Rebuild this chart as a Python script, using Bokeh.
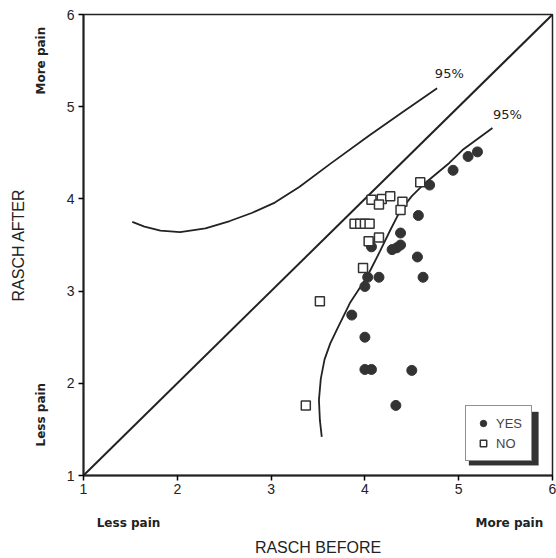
from bokeh.plotting import figure
from bokeh.models import (Label, Legend, LegendItem, Range1d, LinearAxis,
                          FixedTicker, BoxAnnotation)
from bokeh.embed import file_html
from bokeh.resources import INLINE

# ---- data ----
yes_x = [5.20, 5.10, 4.94, 4.69, 4.57, 4.38, 4.07, 4.38, 4.34, 4.29, 4.56,
         4.03, 4.15, 4.62, 4.00, 3.86, 4.00, 4.00, 4.07, 4.50, 4.33]
yes_y = [4.51, 4.46, 4.31, 4.15, 3.82, 3.63, 3.48, 3.50, 3.47, 3.45, 3.37,
         3.15, 3.15, 3.15, 3.05, 2.74, 2.50, 2.15, 2.15, 2.14, 1.76]

no_x = [4.59, 4.07, 4.18, 4.27, 4.15, 4.40, 4.38, 3.89, 3.95, 4.00, 4.05,
        4.15, 4.04, 3.98, 3.52, 3.37]
no_y = [4.18, 3.99, 4.00, 4.03, 3.94, 3.97, 3.88, 3.73, 3.73, 3.73, 3.73,
        3.58, 3.54, 3.25, 2.89, 1.76]

upper_x = [1.52, 1.65, 1.82, 2.03, 2.30, 2.56, 2.80, 3.04, 3.30, 3.63, 4.05, 4.40, 4.77]
upper_y = [3.75, 3.70, 3.655, 3.64, 3.68, 3.76, 3.85, 3.96, 4.13, 4.38, 4.69, 4.94, 5.20]

lower_x = [3.54, 3.52, 3.51, 3.53, 3.57, 3.63, 3.70, 3.84, 4.02, 4.16, 4.27, 4.37,
           4.50, 4.64, 4.90, 5.04, 5.36]
lower_y = [1.42, 1.60, 1.82, 2.05, 2.26, 2.43, 2.58, 2.87, 3.15, 3.43, 3.66, 3.86,
           4.03, 4.17, 4.39, 4.53, 4.77]

diag_x = [1, 6]
diag_y = [1, 6]

ticks = [1, 2, 3, 4, 5, 6]
x_end_labels = {1.48: "Less pain", 5.54: "More pain"}
y_end_labels = {1.66: "Less pain", 5.50: "More pain"}

# ---- figure ----
p = figure(width=556, height=558, output_backend="svg", toolbar_location=None,
           x_range=Range1d(1, 6), y_range=Range1d(1, 6),
           min_border_left=83, min_border_right=4, min_border_top=14,
           min_border_bottom=82)
p.grid.visible = False
p.background_fill_color = "white"
p.border_fill_color = "white"
p.outline_line_color = "#222222"
p.outline_line_width = 1.5

for ax in (p.xaxis[0], p.yaxis[0]):
    ax.ticker = ticks
    ax.axis_line_width = 2
    ax.axis_line_color = "#222222"
    ax.major_tick_line_width = 1.5
    ax.major_tick_out = 5
    ax.major_tick_in = 0
    ax.minor_tick_out = 3
    ax.minor_tick_in = 0
    ax.major_label_text_font = "Liberation Sans"
    ax.major_label_text_font_size = "14px"
    ax.major_label_text_color = "#222222"
p.xaxis[0].ticker.num_minor_ticks = 2
p.yaxis[0].ticker.num_minor_ticks = 2
p.xaxis[0].major_label_standoff = 3
p.yaxis[0].major_label_standoff = 4

# secondary axes carrying the "Less pain" / "More pain" text and titles
xa2 = LinearAxis(ticker=FixedTicker(ticks=list(x_end_labels.keys())),
                 major_label_overrides=x_end_labels,
                 axis_line_color=None, major_tick_line_color=None,
                 minor_tick_line_color=None,
                 major_label_text_font="DejaVu Sans",
                 major_label_text_font_style="bold",
                 major_label_text_font_size="12px",
                 major_label_text_color="#222222",
                 major_label_standoff=13,
                 axis_label="RASCH BEFORE",
                 axis_label_text_font="Liberation Sans",
                 axis_label_text_font_style="normal",
                 axis_label_text_font_size="16px",
                 axis_label_text_color="#222222",
                 axis_label_standoff=6)
p.add_layout(xa2, "below")

ya2 = LinearAxis(ticker=FixedTicker(ticks=list(y_end_labels.keys())),
                 major_label_overrides=y_end_labels,
                 major_label_orientation="vertical",
                 axis_line_color=None, major_tick_line_color=None,
                 minor_tick_line_color=None,
                 major_label_text_font="DejaVu Sans",
                 major_label_text_font_style="bold",
                 major_label_text_font_size="12px",
                 major_label_text_color="#222222",
                 major_label_standoff=9,
                 axis_label="RASCH AFTER",
                 axis_label_text_font="Liberation Sans",
                 axis_label_text_font_style="normal",
                 axis_label_text_font_size="16px",
                 axis_label_text_color="#222222",
                 axis_label_standoff=5)
p.add_layout(ya2, "left")

# lines
p.line(diag_x, diag_y, line_color="#222222", line_width=2)
p.line(upper_x, upper_y, line_color="#222222", line_width=1.8)
p.line(lower_x, lower_y, line_color="#222222", line_width=1.8)

# points
r_yes = p.scatter(yes_x, yes_y, marker="circle", size=10, fill_color="#333333",
                  line_color="#333333")
r_no = p.scatter(no_x, no_y, marker="square", size=9, fill_color="white",
                 line_color="#333333", line_width=1.5)

# legend with drop shadow
p.add_layout(BoxAnnotation(left=5.11, right=5.85, bottom=1.11, top=1.69,
                           fill_color="#333333", fill_alpha=1.0,
                           line_color="#333333"))
legend = Legend(items=[LegendItem(label="YES", renderers=[r_yes]),
                       LegendItem(label="NO", renderers=[r_no])],
                location=(382, 14), border_line_color="#222222",
                border_line_width=1.5, background_fill_alpha=1.0,
                label_text_font="Liberation Sans",
                label_text_font_size="13px", glyph_width=16, glyph_height=16,
                spacing=4, padding=9, label_standoff=5, margin=0,
                label_height=16)
p.add_layout(legend, "center")

def lab(x, y, t):
    p.add_layout(Label(x=x, y=y, text=t, text_font="DejaVu Sans",
                       text_font_size="13px", text_align="center",
                       text_baseline="middle", text_color="#222222"))

lab(4.90, 5.36, "95%")
lab(5.52, 4.92, "95%")

open("out.html", "w").write(file_html(p, INLINE))
